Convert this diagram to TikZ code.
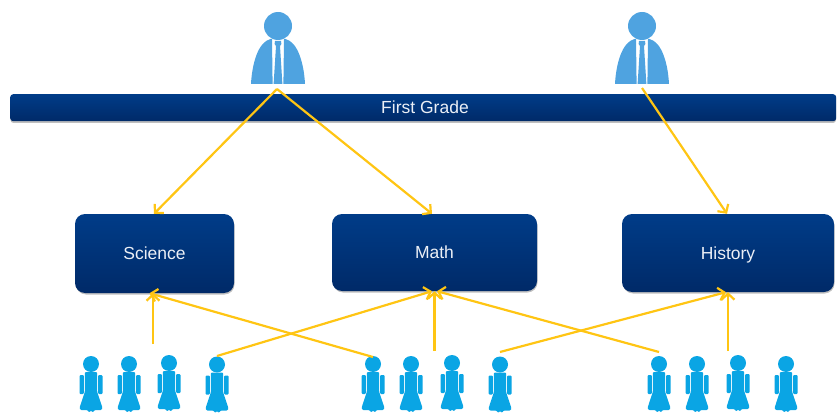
\documentclass[tikz,border=0pt]{standalone}
\usepackage{fontspec}
\setmainfont{Liberation Sans}
\usetikzlibrary{arrows.meta,calc}
\definecolor{navytop}{HTML}{003C88}
\definecolor{navybot}{HTML}{002A68}
\definecolor{arrowgold}{HTML}{FFC513}
\definecolor{teacherblue}{HTML}{4FA3E0}
\definecolor{studentblue}{HTML}{0AA5E4}
\tikzset{
  x=1pt,y=-1pt,
  box/.style={rectangle,rounded corners=10pt,top color=navytop,bottom color=navybot,
    text=white!92!navytop,font=\fontsize{17.5pt}{20pt}\selectfont,inner sep=0pt,draw=none,text height=12.5pt,text depth=.5pt},
  link/.style={draw=arrowgold,line width=2.2pt,-{Straight Barb[length=6pt,width=13pt,line width=2.2pt]}},
  pics/teacher/.style={code={
    \fill[teacherblue] (0,-24) circle (14);
    \fill[teacherblue] (-7.5,-11) .. controls (-20,-8) and (-26,14) .. (-27,34) -- (-5.4,34) -- (-6,-11) -- cycle;
    \fill[teacherblue] (7.5,-11) .. controls (20,-8) and (26,14) .. (27,34) -- (5.4,34) -- (6,-11) -- cycle;
    \fill[teacherblue] (-3,-9) -- (3,-9) -- (3.4,-6) -- (2,-4) -- (4.4,34) -- (-4.4,34) -- (-2,-4) -- (-3.4,-6) -- cycle;
  }},
  pics/student/.style={code={
    \fill[studentblue] (0,-15) circle (8);
    \fill[studentblue,rounded corners=1pt] (-6.2,-7) -- (6.2,-7) -- (6.2,13) -- (11.5,29) -- (10.5,31) -- (3.5,31) -- (2,33.5) -- (0,31.5) -- (-2,33.5) -- (-3.5,31) -- (-10.5,31) -- (-11.5,29) -- (-6.2,13) -- cycle;
    \fill[studentblue,rounded corners=1pt] (-11.5,-4) rectangle (-7.2,15);
    \fill[studentblue,rounded corners=1pt] (7.2,-4) rectangle (11.5,15);
  }}
}
\begin{document}
\begin{tikzpicture}
\useasboundingbox (0,0) rectangle (838,417);
% bar
\fill[black!25,rounded corners=3pt] (10.5,95) rectangle (836,123);
\node[box,rounded corners=3pt,minimum width=826,minimum height=27,anchor=north west] (grade) at (10,94) {};
\node[text=white!92!navytop,font=\fontsize{17.5pt}{20pt}\selectfont] (gradelabel) at (425,107) {First Grade};
% subject boxes
\foreach \x/\y/\w/\h in {154.5/253.5/159/79,434.5/252.5/205/77,728/253/212/78}
  \fill[black!25,rounded corners=10pt] (\x-\w/2+1,\y-\h/2+1.5) rectangle (\x+\w/2+.5,\y+\h/2+1.5);
\node[box,minimum width=159,minimum height=79] (science) at (154.5,253.5) {Science};
\node[box,minimum width=205,minimum height=77] (math) at (434.5,252.5) {Math};
\node[box,minimum width=212,minimum height=78] (history) at (728,253) {History};
% teachers
\pic at (278,50) {teacher};
\pic at (642,50) {teacher};
\coordinate (t1) at (277,89);
\coordinate (t2) at (642,88);
% students
\foreach \x/\y in {91/379,129/379,169/378,217/379.5,373/379,411/379,452/378,500/379.5,659/379,697/379,738/378,786/379}
  \pic at (\x,\y) {student};
\coordinate (s1) at (153,344);
\coordinate (s2) at (217,356);
\coordinate (s3) at (373,357);
\coordinate (s4) at (434.5,351);
\coordinate (s5) at (500,352);
\coordinate (s6) at (659,352);
\coordinate (s7) at (728,351);
% connectors
\draw[link] (t1) -- ($(science.north)+(-.5,0)$);
\draw[link] (t1) -- ($(math.north)+(-2.5,0)$);
\draw[link] (t2) -- ($(history.north)+(-1,0)$);
\draw[link] (s1) -- ($(science.south)+(-1.5,0)$);
\draw[link] (s3) -- ($(science.south)+(-5,0)$);
\draw[link] (s2) -- ($(math.south)+(-2.5,0)$);
\draw[link] (s4) -- (math.south);
\draw[link] (s6) -- ($(math.south)+(2.5,0)$);
\draw[link] (s5) -- ($(history.south)+(-2,0)$);
\draw[link] (s7) -- (history.south);
\end{tikzpicture}
\end{document}
